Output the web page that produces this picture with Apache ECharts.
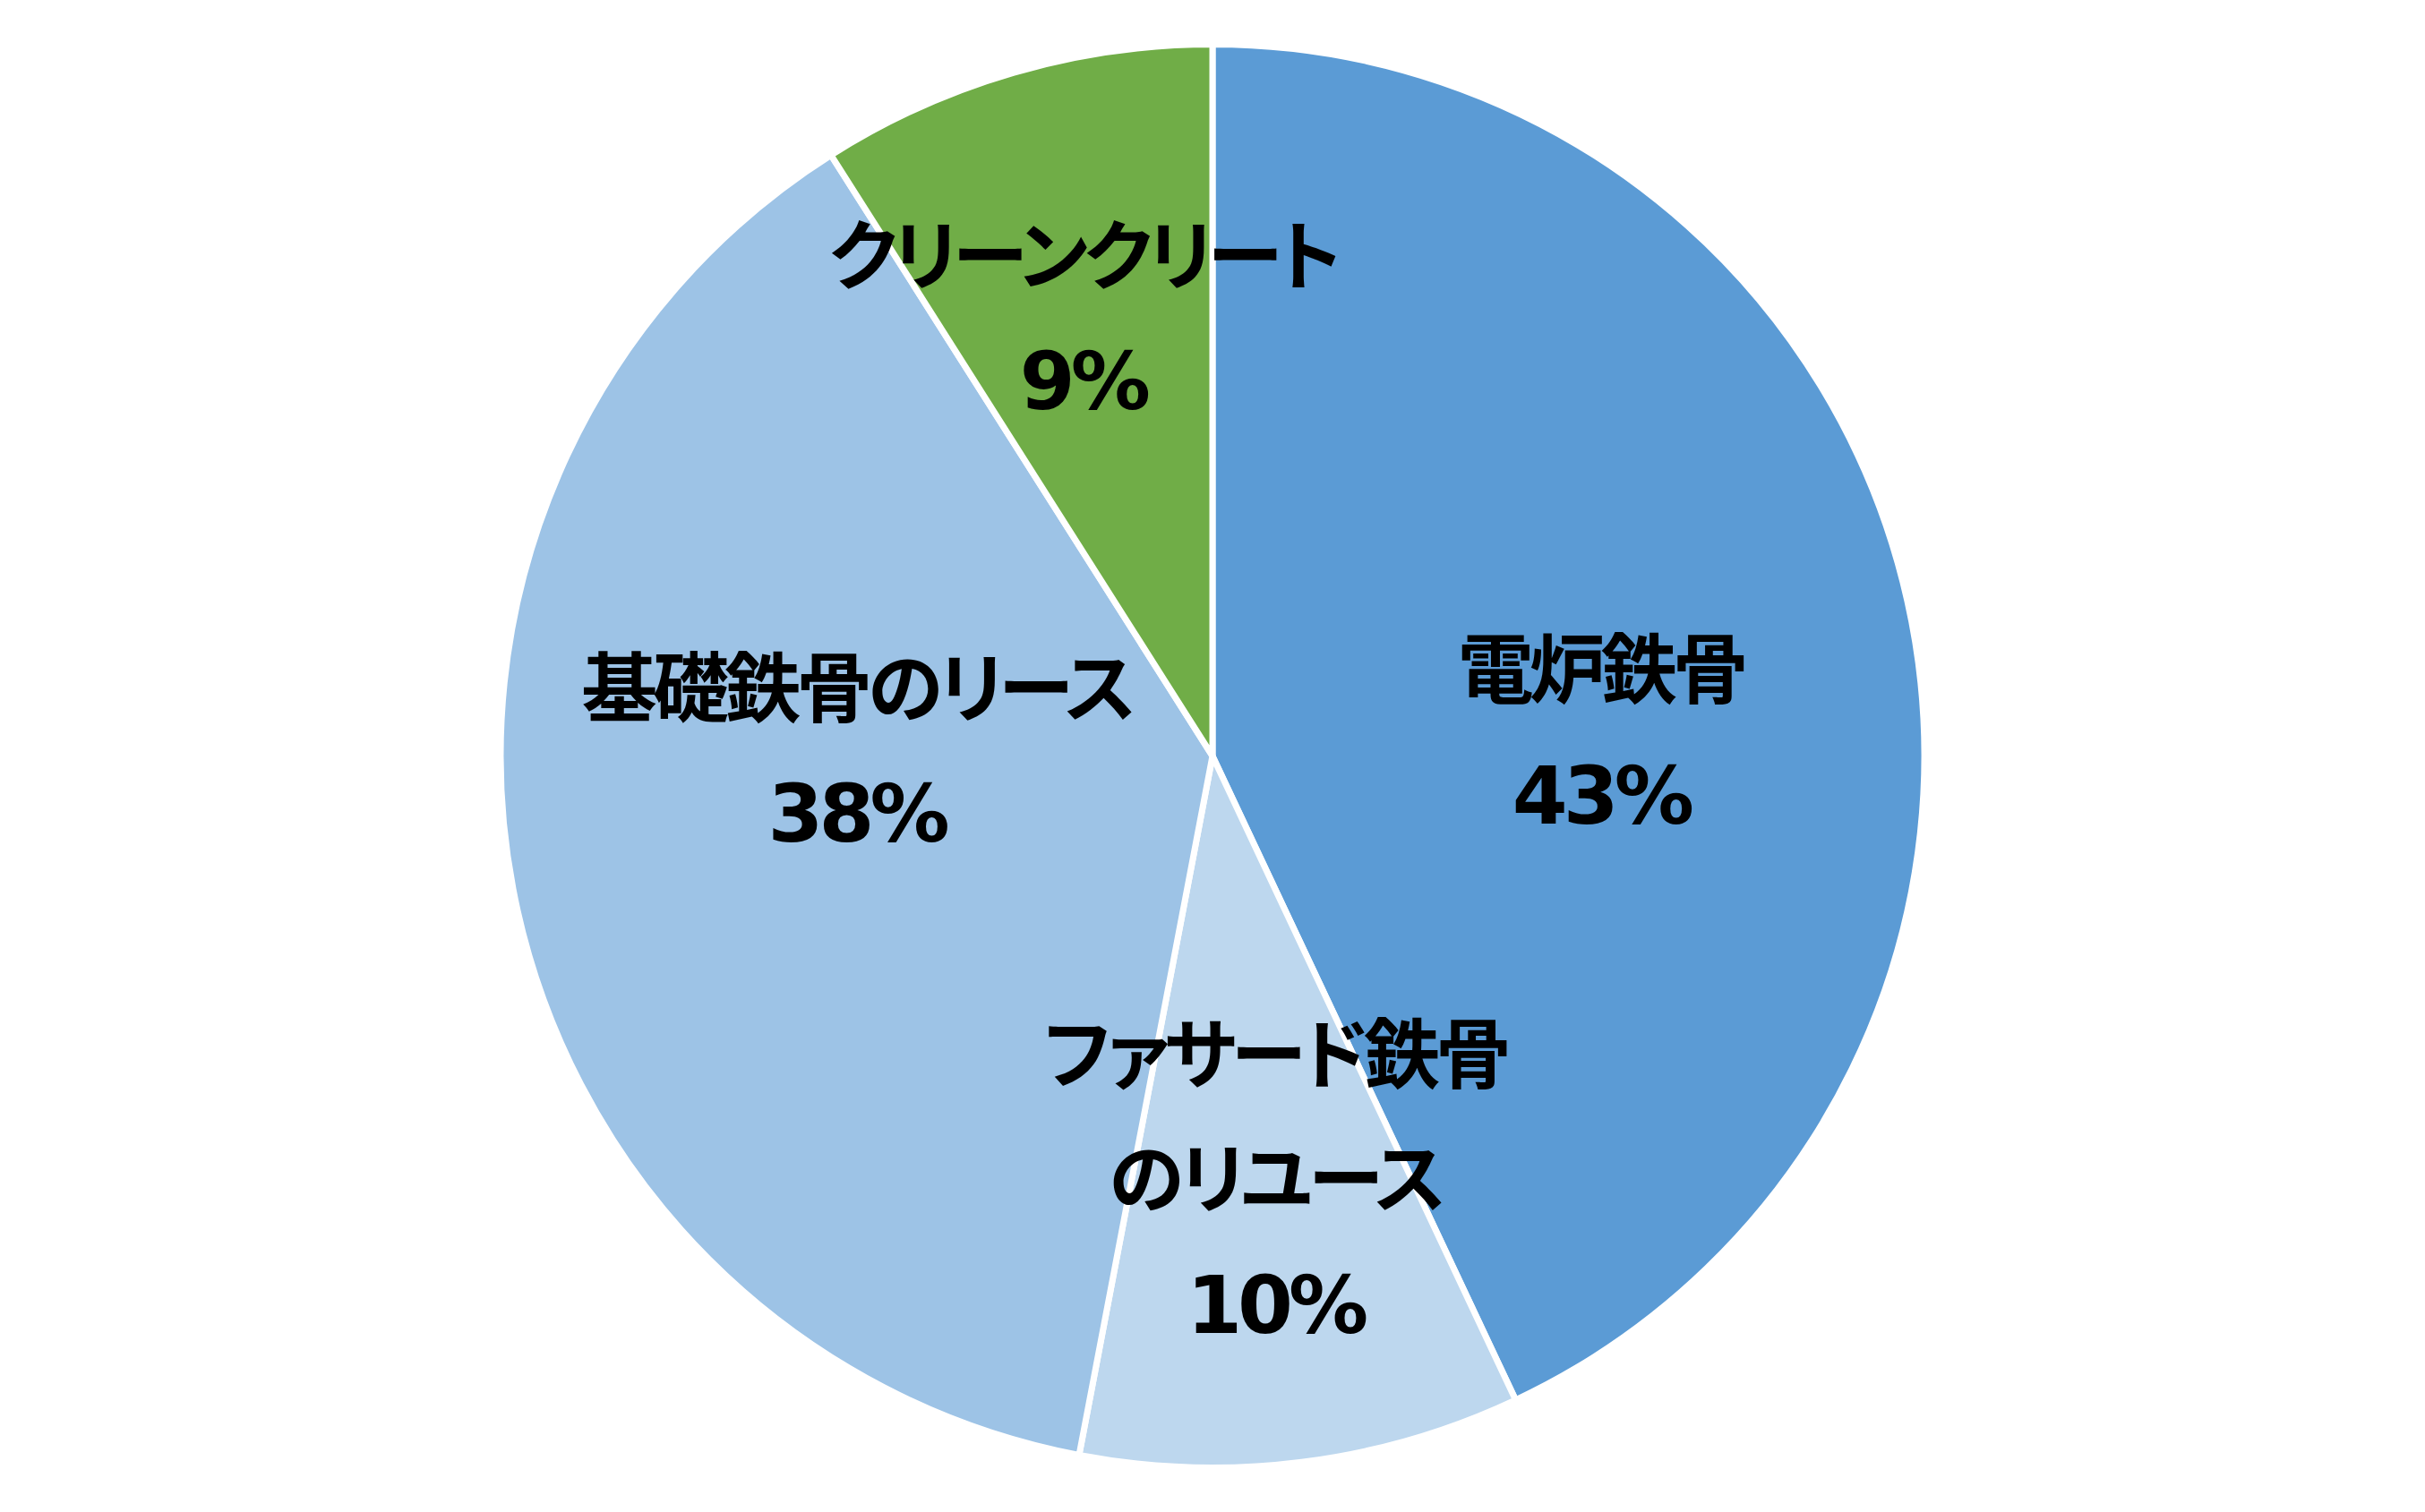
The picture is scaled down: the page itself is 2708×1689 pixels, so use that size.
<!DOCTYPE html>
<html>
<head>
<meta charset="utf-8">
<script src="https://cdn.jsdelivr.net/npm/echarts@6/dist/echarts.min.js"></script>
<style>
  html, body { margin: 0; padding: 0; background: #ffffff; }
  #chart { width: 2708px; height: 1689px; }
  #chart svg text { font-feature-settings: "palt" 1; letter-spacing: -5px; }
</style>
</head>
<body>
<div id="chart"></div>
<script>
// Data
const categories = ['電炉鉄骨', 'ファサード鉄骨\nのリユース', '基礎鉄骨のリース', 'クリーンクリート'];
const values = [43, 10, 38, 9];
const colors = ['#5B9BD5', '#BDD7EE', '#9DC3E6', '#70AD47'];

// label nudges (px) from the default inside position
const labelNudges = [[43, 62], [20, 77], [-4, -80], [-33, -103]];

const chart = echarts.init(document.getElementById('chart'), null, { renderer: 'svg' });

const fontFam = '"DejaVu Sans", "Noto Sans CJK JP", sans-serif';

chart.setOption({
  backgroundColor: '#ffffff',
  animation: false,
  series: [{
    type: 'pie',
    center: ['50%', '50%'],
    radius: 795,
    startAngle: 90,
    clockwise: true,
    avoidLabelOverlap: false,
    data: categories.map((name, i) => ({
      name: name,
      value: values[i],
      itemStyle: { color: colors[i] }
    })),
    itemStyle: { borderColor: '#ffffff', borderWidth: 7 },
    label: {
      show: true,
      position: 'inside',
      formatter: function (p) {
        return p.name.split('\n').map(s => '{n|' + s + '}').join('\n') + '\n{p|' + p.percent + '%}';
      },
      color: '#000000',
      fontFamily: fontFam,
      fontWeight: 'bold',
      fontSize: 85,
      lineHeight: 139,
      align: 'center',
      rich: {
        n: { fontFamily: fontFam, fontWeight: 'bold', fontSize: 85, lineHeight: 139, color: '#000000', align: 'center' },
        p: { fontFamily: fontFam, fontWeight: 'bold', fontSize: 89, lineHeight: 139, color: '#000000', align: 'center' }
      }
    },
    labelLine: { show: false },
    labelLayout: function (params) {
      const n = labelNudges[params.dataIndex];
      return { dx: n[0], dy: n[1] };
    },
    emphasis: { disabled: true }
  }]
});
</script>
</body>
</html>
